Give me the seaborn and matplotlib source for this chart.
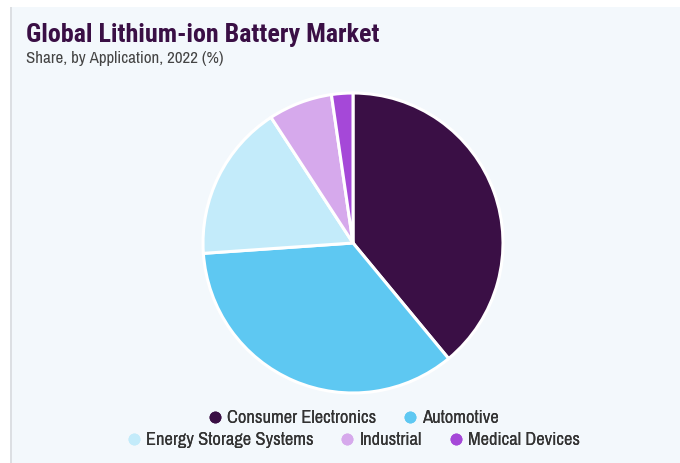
import matplotlib
matplotlib.use("Agg")
import matplotlib.pyplot as plt
from matplotlib.lines import Line2D
from matplotlib.patches import Rectangle
import seaborn as sns

# Market share by application, 2022 (%)
applications = ["Consumer Electronics", "Automotive", "Energy Storage Systems",
                "Industrial", "Medical Devices"]
shares = [39.0, 34.9, 16.9, 6.9, 2.3]
colors = ["#3a0f45", "#5ec8f2", "#c3ebfa", "#d6a9ec", "#a548d8"]

title = "Global Lithium-ion Battery Market"
subtitle = "Share, by Application, 2022 (%)"

sns.set_theme(style="white")
plt.rcParams["font.family"] = ["Archivo Narrow", "DejaVu Sans"]

W, H = 680, 463
fig = plt.figure(figsize=(W / 100, H / 100), dpi=100, facecolor="white")

# light card background with a thin grey rule on the left
fig.patches.append(Rectangle((11 / W, 0.5 / H), 1 - 11 / W, (H - 7.5) / H,
                             transform=fig.transFigure, facecolor="#f3f8fc",
                             edgecolor="none", zorder=-2))
fig.patches.append(Rectangle((10 / W, 0.5 / H), 2 / W, (H - 7.5) / H,
                             transform=fig.transFigure, facecolor="#dcdfe3",
                             edgecolor="none", zorder=-1))

fig.text(26 / W, 1 - 42 / H, title, fontsize=18.7, fontweight="bold",
         family=["Roboto Condensed", "DejaVu Sans"],
         color="#3a0f45", va="baseline", ha="left")
fig.text(26 / W, 1 - 63 / H, subtitle, fontsize=12.2, color="#444444",
         va="baseline", ha="left")

cx, cy, r = 353, 243, 150
ax = fig.add_axes([(cx - r) / W, (H - cy - r) / H, 2 * r / W, 2 * r / H])
ax.set_facecolor("none")
ax.pie(shares, colors=colors, startangle=90, counterclock=False,
       wedgeprops=dict(edgecolor="white", linewidth=2.2))
ax.set_xlim(-1.0, 1.0)
ax.set_ylim(-1.0, 1.0)
ax.set_aspect("equal")
ax.axis("off")

def handle(c):
    return Line2D([], [], marker="o", linestyle="none", markersize=7.5,
                  markerfacecolor=c, markeredgecolor=c)

rows = [[0, 1], [2, 3, 4]]
row_y = [418, 440]
for idx, y in zip(rows, row_y):
    leg = fig.legend([handle(colors[i]) for i in idx],
                     [applications[i] for i in idx],
                     loc="center", bbox_to_anchor=(cx / W, 1 - y / H),
                     ncol=len(idx), frameon=False, fontsize=13.3,
                     handletextpad=0.25, columnspacing=1.44, handlelength=0.8,
                     borderpad=0, borderaxespad=0)
    for t in leg.get_texts():
        t.set_color("#333333")
    fig.add_artist(leg)

fig.savefig("out.png", dpi=100, facecolor="white")
